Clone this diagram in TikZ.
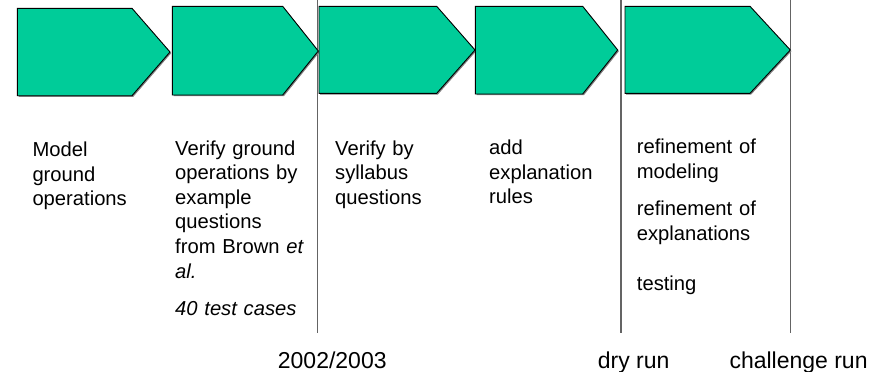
\documentclass[tikz,border=0pt]{standalone}
\usepackage{fontspec}
\setmainfont{Liberation Sans}
\definecolor{stepgreen}{RGB}{0,204,153}
\definecolor{markgray}{RGB}{100,100,100}
\begin{document}
\begin{tikzpicture}[x=1pt,y=-1pt,
  chevron/.style={fill=stepgreen,draw=black,line width=0.9pt,line join=miter},
  chevshadow/.style={fill=black!50,draw=none},
  marker/.style={draw=markgray,line width=1.3pt},
  phase/.style={anchor=base west,inner sep=0pt,text width=150pt,align=left,
    font=\fontsize{20.2}{24.6}\selectfont},
  milestone/.style={anchor=base west,inner sep=0pt,font=\fontsize{23}{27}\selectfont}]
  \useasboundingbox (0,0) rectangle (887,372);

  % milestone markers
  \draw[marker] (317.7,0) coordinate (m1top) -- (317.7,333) coordinate (m1bot);
  \draw[marker] (621,0) coordinate (m2top) -- (621,333) coordinate (m2bot);
  \draw[marker] (790.7,0) coordinate (m3top) -- (790.7,333) coordinate (m3bot);

  % process chevrons: left, top, bottom, shoulder, tip x, tip y
  \foreach \l/\t/\b/\s/\px/\py in {17.3/8.3/95.7/132/170/52,
                                  172.3/6.3/95/282.7/318.3/51,
                                  319/6.3/93.3/436.7/475/50,
                                  475.3/6.3/94/582.7/617.7/50,
                                  625/6.3/93.3/750/790.3/50}{
    \fill[chevshadow,shift={(1.2,1.2)}] (\l,\t) -- (\s,\t) -- (\px,\py) -- (\s,\b) -- (\l,\b) -- cycle;
    \draw[chevron] (\l,\t) -- (\s,\t) -- (\px,\py) -- (\s,\b) -- (\l,\b) -- cycle;
  }

  % phase descriptions
  \node[phase] (model) at (32.3,156.5) {Model\\ground\\operations};
  \node[phase] (verify) at (175,155) {Verify ground\\operations by\\example\\questions\\from Brown \textit{et}\\\textit{al.}};
  \node[phase] (cases) at (175,315) {\textit{40 test cases}};
  \node[phase] (syllabus) at (335,155) {Verify by\\syllabus\\questions};
  \node[phase] (rules) at (489,154.5) {add\\explanation\\rules};
  \node[phase] (refmod) at (636.7,153.5) {refinement of\\modeling};
  \node[phase] (refexp) at (636.7,215.7) {refinement of\\explanations};
  \node[phase] (testing) at (636.7,290) {testing};

  % milestone labels
  \node[milestone] (year) at (277.7,368) {2002/2003};
  \node[milestone] (dry) at (597.7,368) {dry run};
  \node[milestone] (challenge) at (729.3,368) {challenge run};
\end{tikzpicture}
\end{document}
